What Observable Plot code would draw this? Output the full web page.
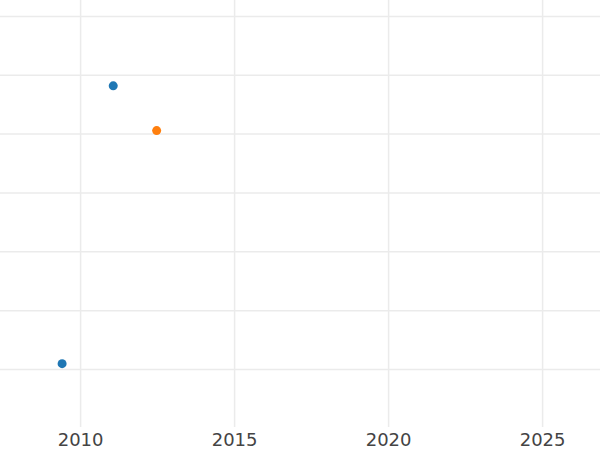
<!DOCTYPE html>
<html>
<head>
<meta charset="utf-8">
<script src="https://cdn.jsdelivr.net/npm/d3@7"></script>
<script src="https://cdn.jsdelivr.net/npm/@observablehq/plot@0.6"></script>
<style>
  html, body { margin: 0; padding: 0; background: #fff; }
</style>
</head>
<body>
<div id="chart"></div>
<script>
const years = [2009.4, 2011.06, 2012.47];
const values = [0.10, 4.82, 4.06];
const series = ["A", "A", "B"];
const seriesNames = ["A", "B"];
const seriesColors = ["#1f77b4", "#ff7f0e"];
const xTicks = [2010, 2015, 2020, 2025];
const yGrid = [0, 1, 2, 3, 4, 5, 6];

const data = years.map((x, i) => ({x, y: values[i], s: series[i]}));

const chart = Plot.plot({
  width: 600,
  height: 450,
  marginLeft: 0,
  marginRight: 0,
  marginTop: 0,
  marginBottom: 23,
  style: {fontFamily: "DejaVu Sans", fontSize: "18px", background: "#fff"},
  x: {domain: [2007.4, 2026.88], ticks: xTicks, tickFormat: d3.format("d")},
  y: {domain: [-0.985, 6.27], axis: null},
  color: {domain: seriesNames, range: seriesColors},
  marks: [
    Plot.gridX(xTicks, {stroke: "#ebebeb", strokeOpacity: 1, strokeWidth: 1.5}),
    Plot.gridY(yGrid, {stroke: "#ebebeb", strokeOpacity: 1, strokeWidth: 1.5}),
    Plot.axisX(xTicks, {tickSize: 0, tickPadding: 6, color: "#444", tickFormat: d3.format("d"), label: null}),
    Plot.dot(data, {x: "x", y: "y", fill: "s", r: 4.5, stroke: "none"})
  ]
});
document.getElementById("chart").appendChild(chart);
</script>
</body>
</html>
